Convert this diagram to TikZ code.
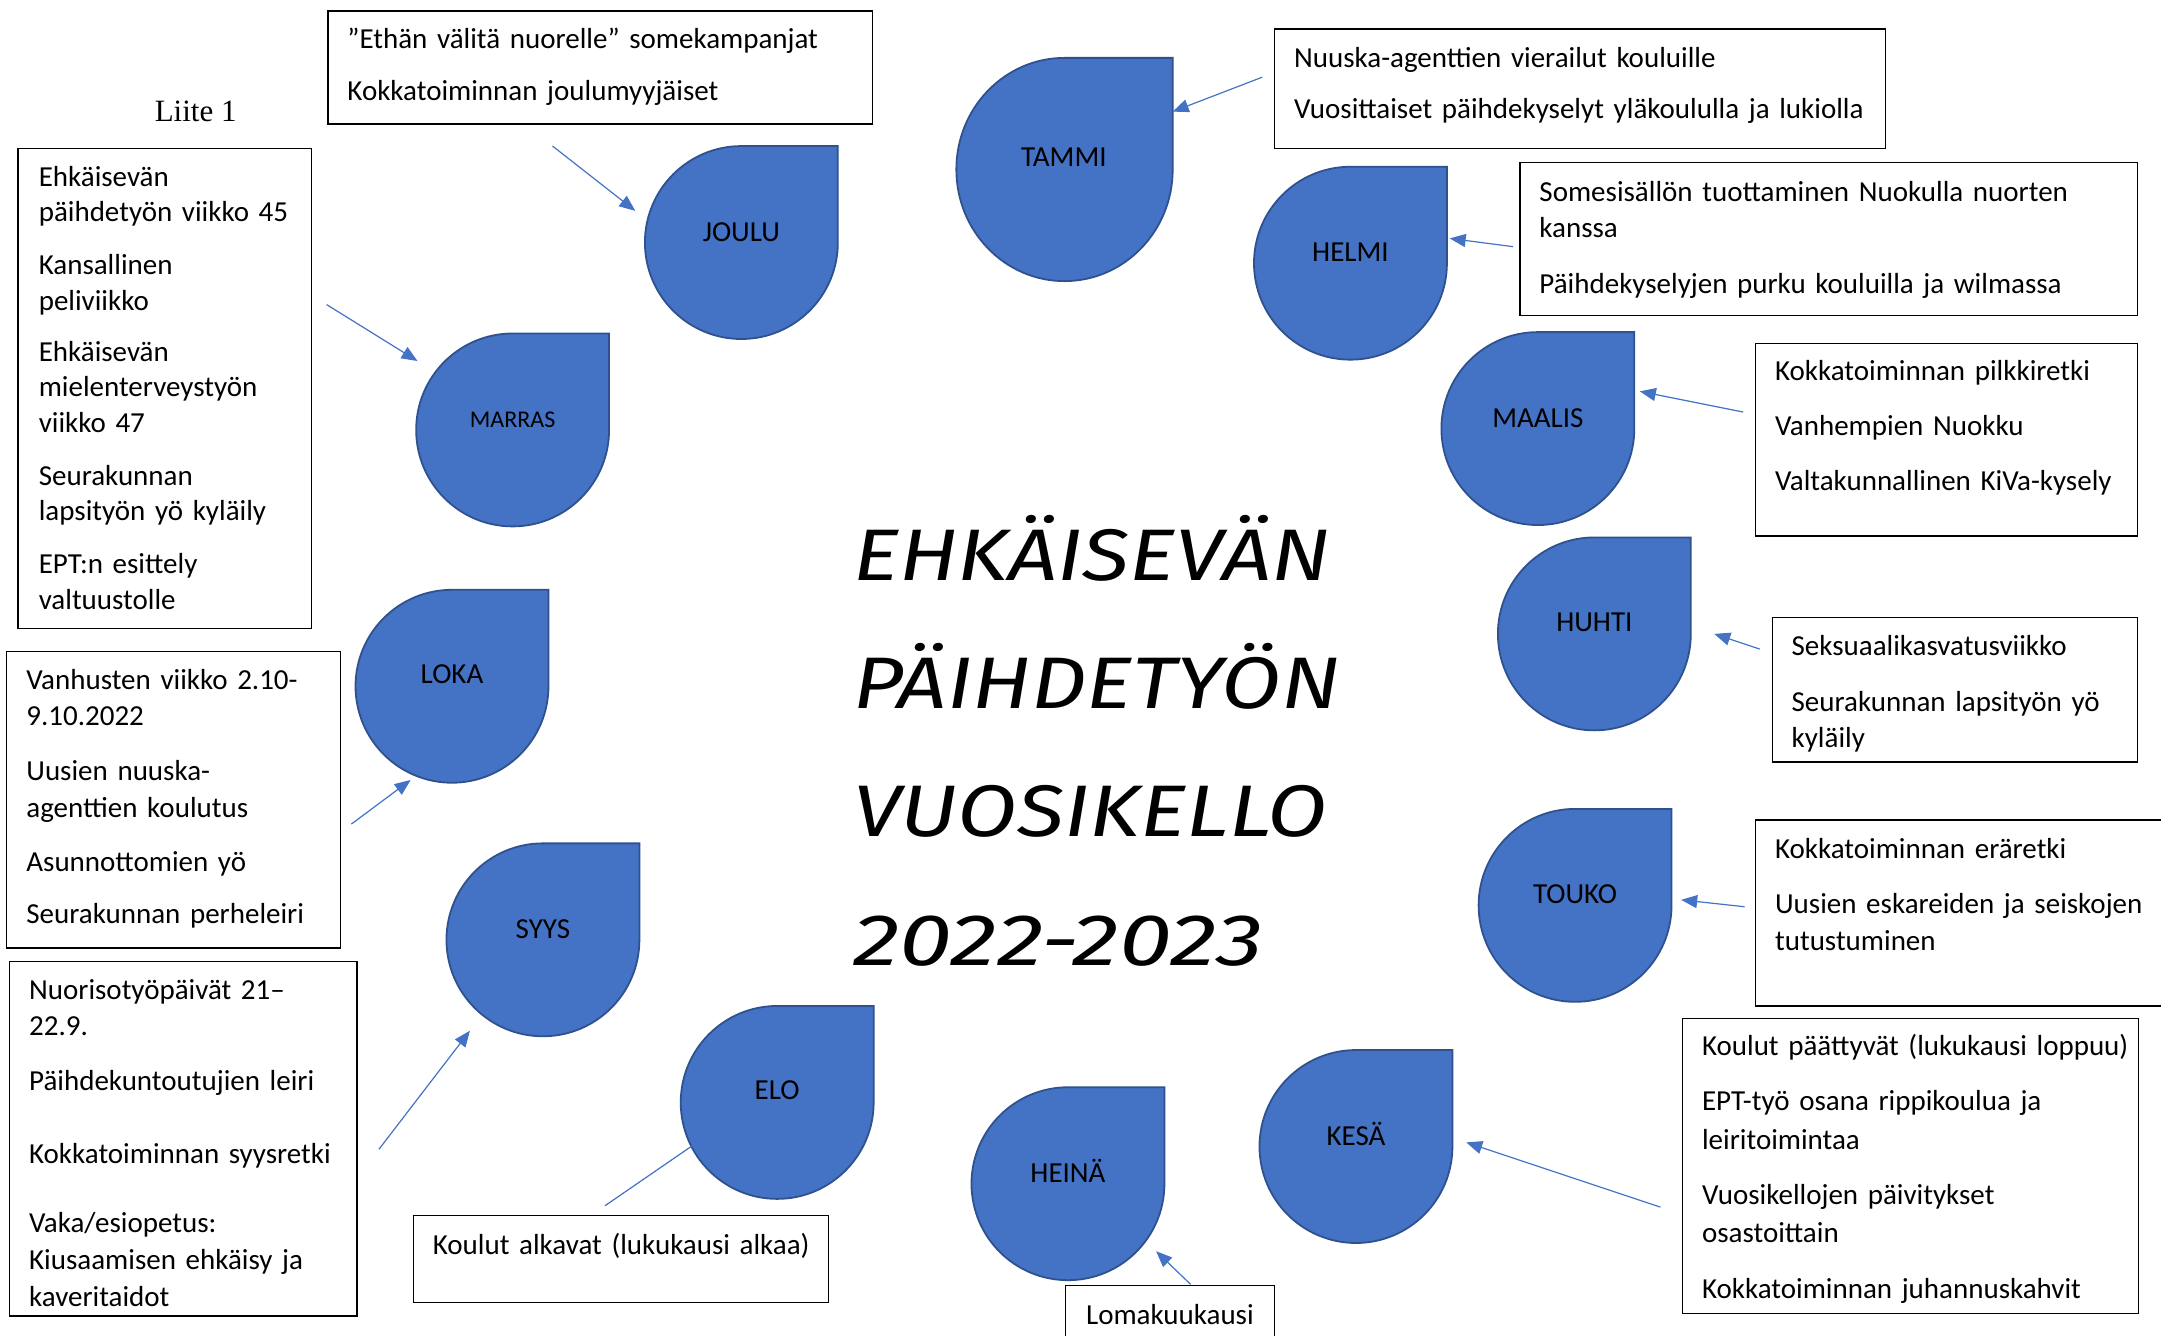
\documentclass[tikz,border=0pt]{standalone}
\usepackage{fontspec}
\setmainfont{Carlito}
\newfontfamily\liitefont{Liberation Serif}
\newfontfamily\titlefont[FakeStretch=1.19]{Fira Sans}
\newfontfamily\titledigits[FakeStretch=1.3]{Fira Sans}
\usetikzlibrary{arrows.meta,fit}
\definecolor{drop}{HTML}{4472C4}
\definecolor{dropline}{HTML}{2F528F}
\definecolor{arr}{HTML}{4472C4}
\newcommand\tdrop[4]{\draw[dropshape] (#1+#3,#2) -- (#1+#3,#2-#4) -- (#1,#2-#4) arc[start angle=270,end angle=0,x radius=#3,y radius=#4] -- cycle;}
\begin{document}
\begin{tikzpicture}[x=1.378pt,y=-1.378pt,
  box/.style={draw=black,line width=1.2pt,rectangle,inner sep=0pt},
  txt/.style={anchor=base west,inner sep=0pt,text width=800pt,align=left,font=\fontsize{29}{36.8}\selectfont},
  mon/.style={anchor=base,inner sep=0pt,font=\fontsize{29}{35}\selectfont},
  conn/.style={draw=arr,line width=1.2pt,-{Triangle[length=16pt,width=13pt]}},
  plain/.style={draw=arr,line width=1.2pt},
  dropshape/.style={fill=drop,draw=dropline,line width=1.8pt}]
\useasboundingbox (0,0) rectangle (1568.2,969.5);
\fill[white] (0,0) rectangle (1568.2,969.5);

% teardrops
\tdrop{772.5}{123}{78.5}{81}
\tdrop{980}{191}{70}{70}
\tdrop{1116}{311}{70}{70}
\tdrop{1157}{460}{70}{70}
\tdrop{1143}{657}{70}{70}
\tdrop{984}{832}{70}{70}
\tdrop{775}{859}{70}{70}
\tdrop{564}{800}{70}{70}
\tdrop{394}{682}{70}{70}
\tdrop{328}{498}{70}{70}
\tdrop{372}{312}{70}{70}
\tdrop{538}{176}{70}{70}

% month labels
\node[mon] (tammi) at (772,121) {TAMMI};
\node[mon] (helmi) at (980,190) {HELMI};
\node[mon] (maalis) at (1116,310) {MAALIS};
\node[mon] (huhti) at (1157,458) {HUHTI};
\node[mon] (touko) at (1143,656) {TOUKO};
\node[mon] (kesa) at (984,831) {KESÄ};
\node[mon] (heina) at (775,858) {HEINÄ};
\node[mon] (elo) at (564,798) {ELO};
\node[mon] (syys) at (394,681) {SYYS};
\node[mon] (loka) at (328,496) {LOKA};
\node[mon,font=\fontsize{24}{30}\selectfont] (marras) at (372,310) {MARRAS};
\node[mon] (joulu) at (538,175) {JOULU};

% Liite
\node[anchor=base,inner sep=0pt,font=\liitefont\fontsize{31}{36}\selectfont] (liite) at (142,88) {Liite 1};

% title
\node[anchor=base west,inner sep=0pt,text width=900pt,align=left,font=\titlefont\itshape\fontsize{73}{128.3}\selectfont] (title) at (619,421) {EHKÄISEVÄN\\PÄIHDETYÖN\\VUOSIKELLO\\{\titledigits\itshape 2022-2023}};

% boxes
\node[box,fit={(238,8) (633,90)}] (b1) {};
\node[txt] (t1) at (252,35) {”Ethän välitä nuorelle” somekampanjat\\[15.6pt]Kokkatoiminnan joulumyyjäiset};
\node[box,fit={(925,21) (1368,108)}] (b2) {};
\node[txt] (t2) at (939,49) {Nuuska-agenttien vierailut kouluille\\[14.2pt]Vuosittaiset päihdekyselyt yläkoululla ja lukiolla};
\node[box,fit={(1103,118) (1551,229)}] (b3) {};
\node[txt] (t3) at (1117,146) {Somesisällön tuottaminen Nuokulla nuorten\\kanssa\\[18.3pt]Päihdekyselyjen purku kouluilla ja wilmassa};
\node[box,fit={(1274,249) (1551,389)}] (b4) {};
\node[txt] (t4) at (1288,276) {Kokkatoiminnan pilkkiretki\\[18.3pt]Vanhempien Nuokku\\[18.3pt]Valtakunnallinen KiVa-kysely};
\node[box,fit={(1286,448) (1551,553)}] (b5) {};
\node[txt] (t5) at (1300,476) {Seksuaalikasvatusviikko\\[18.3pt]Seurakunnan lapsityön yö\\kyläily};
\node[box,fit={(1274,595) (1600,730)}] (b6) {};
\node[txt] (t6) at (1288,623) {Kokkatoiminnan eräretki\\[18.3pt]Uusien eskareiden ja seiskojen\\tutustuminen};
\node[box,fit={(1221,739) (1552,953)}] (b7) {};
\node[txt,font=\fontsize{29}{38.6}\selectfont] (t7) at (1235,766) {Koulut päättyvät (lukukausi loppuu)\\[16.5pt]EPT-työ osana rippikoulua ja\\leiritoimintaa\\[16.5pt]Vuosikellojen päivitykset\\osastoittain\\[16.5pt]Kokkatoiminnan juhannuskahvit};
\node[box,fit={(773,933) (925,1000)}] (b8) {};
\node[txt] (t8) at (788,961) {Lomakuukausi};
\node[box,fit={(300,882) (601,945)}] (b9) {};
\node[txt] (t9) at (314,910) {Koulut alkavat (lukukausi alkaa)};
\node[box,fit={(7,698) (259,955)}] (b10) {};
\node[txt] (t10) at (21,725) {Nuorisotyöpäivät 21–\\22.9.\\[18.3pt]Päihdekuntoutujien leiri\\[36.2pt]Kokkatoiminnan syysretki\\[32.1pt]Vaka/esiopetus:\\Kiusaamisen ehkäisy ja\\kaveritaidot};
\node[box,fit={(5,473) (247,688)}] (b11) {};
\node[txt] (t11) at (19,500) {Vanhusten viikko 2.10-\\9.10.2022\\[18.3pt]Uusien nuuska-\\agenttien koulutus\\[16.9pt]Asunnottomien yö\\[15.6pt]Seurakunnan perheleiri};
\node[box,fit={(13,108) (226,456)}] (b12) {};
\node[txt,font=\fontsize{29}{35.8}\selectfont] (t12) at (28,135) {Ehkäisevän\\päihdetyön viikko 45\\[16.6pt]Kansallinen\\peliviikko\\[15.2pt]Ehkäisevän\\mielenterveystyön\\viikko 47\\[16.6pt]Seurakunnan\\lapsityön yö kyläily\\[16.6pt]EPT:n esittely\\valtuustolle};

% connector end points
\coordinate (a1s) at (401,106);  \coordinate (a1e) at (461,153);
\coordinate (a2s) at (916,56);   \coordinate (a2e) at (851,81);
\coordinate (a3s) at (1098,179); \coordinate (a3e) at (1052,173);
\coordinate (a4s) at (1265,299); \coordinate (a4e) at (1190,284);
\coordinate (a5s) at (1277,471); \coordinate (a5e) at (1244,460);
\coordinate (a6s) at (1266,658); \coordinate (a6e) at (1220,653);
\coordinate (a7s) at (1205,876); \coordinate (a7e) at (1064,829);
\coordinate (a8s) at (864,932);  \coordinate (a8e) at (839,908);
\coordinate (a9s) at (439,875);  \coordinate (a9e) at (503,831);
\coordinate (a10s) at (275,834); \coordinate (a10e) at (341,748);
\coordinate (a11s) at (255,598); \coordinate (a11e) at (298,566);
\coordinate (a12s) at (237,221); \coordinate (a12e) at (303,262);

\draw[conn] (a1s) -- (a1e);
\draw[conn] (a2s) -- (a2e);
\draw[conn] (a3s) -- (a3e);
\draw[conn] (a4s) -- (a4e);
\draw[conn] (a5s) -- (a5e);
\draw[conn] (a6s) -- (a6e);
\draw[conn] (a7s) -- (a7e);
\draw[conn] (a8s) -- (a8e);
\draw[plain] (a9s) -- (a9e);
\draw[conn] (a10s) -- (a10e);
\draw[conn] (a11s) -- (a11e);
\draw[conn] (a12s) -- (a12e);
\end{tikzpicture}
\end{document}
